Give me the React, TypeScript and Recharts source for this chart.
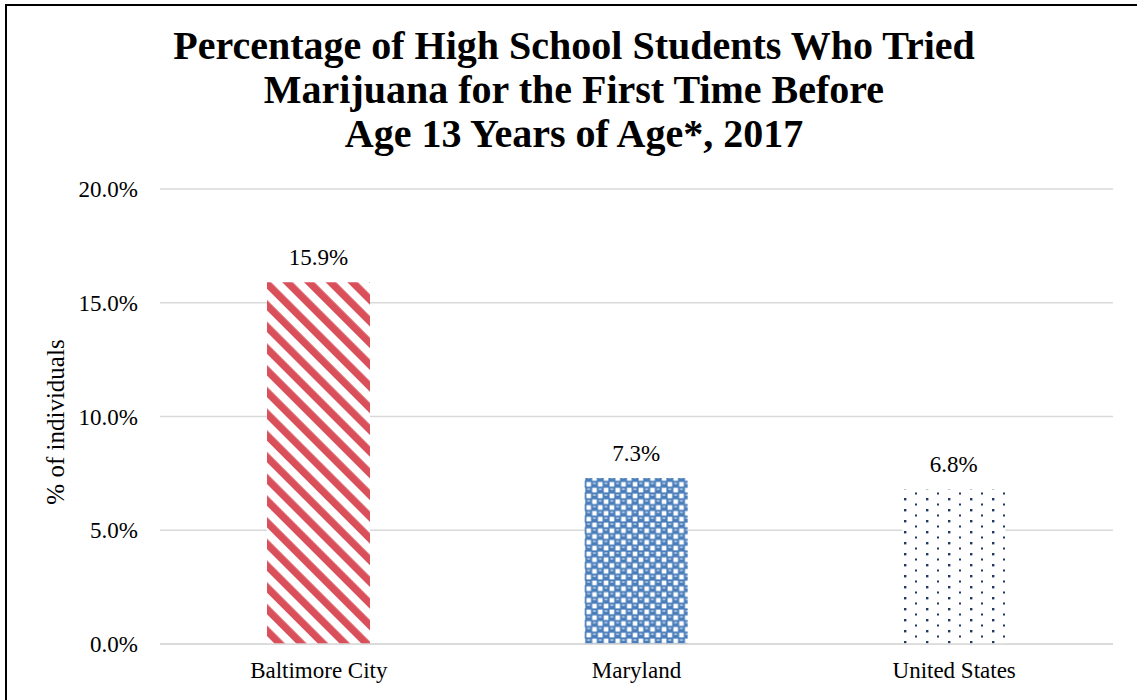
import React from 'react';
import { BarChart, Bar, XAxis, YAxis, CartesianGrid, Cell, LabelList } from 'recharts';

const categories = ['Baltimore City', 'Maryland', 'United States'];
const values = [15.9, 7.3, 6.8];
const yTicks = [0, 5, 10, 15, 20];
const titleLines = [
  'Percentage of High School Students Who Tried',
  'Marijuana for the First Time Before',
  'Age 13 Years of Age*, 2017',
];
const yAxisTitle = '% of individuals';

const fills = ['url(#redStripes)', 'url(#blueChecks)', 'url(#navyDots)'];
const FONT = '"Liberation Serif", "Times New Roman", serif';

const data = categories.map((c, i) => ({ name: c, value: values[i] }));

export default function App() {
  return (
    <div style={{ position: 'absolute', left: 0, top: 0, width: 1137, height: 700, background: '#fff', overflow: 'hidden', fontFamily: FONT }}>
      <div style={{ position: 'absolute', left: 5, top: 4, width: 1140, height: 700, borderTop: '2px solid #000', borderLeft: '2px solid #000' }} />
      <div style={{ position: 'absolute', left: 0, top: 24, width: 1148, textAlign: 'center', fontWeight: 'bold', fontSize: 40, lineHeight: '44px', color: '#000' }}>
        {titleLines.map((t, i) => (<div key={i}>{t}</div>))}
      </div>
      <div style={{ position: 'absolute', left: 0, top: 0 }}>
        <BarChart width={1137} height={700} data={data} margin={{ top: 189, right: 24, bottom: 26, left: 0 }} barSize={103}>
          <defs>
            <pattern id="redStripes" patternUnits="userSpaceOnUse" width={15.35} height={15.35} patternTransform="rotate(-45)">
              <rect x={0} y={0} width={15.35} height={15.35} fill="#ffffff" />
              <rect x={0} y={0} width={7.4} height={15.35} fill="#d9505a" />
            </pattern>
            <pattern id="blueChecks" patternUnits="userSpaceOnUse" width={11.6} height={11.6}>
              <rect x={0} y={0} width={11.6} height={11.6} fill="#4a7ebb" />
              <rect x={0.6} y={0.6} width={4.6} height={4.6} fill="#ffffff" />
              <rect x={6.4} y={6.4} width={4.6} height={4.6} fill="#ffffff" />
              <rect x={7.2} y={1.4} width={2.8} height={1.2} fill="#dfe8f4" />
              <rect x={1.4} y={7.2} width={2.8} height={1.2} fill="#dfe8f4" />
            </pattern>
            <pattern id="navyDots" patternUnits="userSpaceOnUse" width={22} height={11}>
              <rect x={0} y={0} width={22} height={11} fill="#ffffff" />
              <rect x={2} y={3} width={2.4} height={2.4} fill="#1f3864" />
              <rect x={13} y={8.5} width={2} height={2} fill="#1f3864" />
            </pattern>
          </defs>
          <CartesianGrid horizontal vertical={false} stroke="#d9d9d9" strokeWidth={1.5} />
          <XAxis
            dataKey="name"
            axisLine={{ stroke: '#d9d9d9', strokeWidth: 1.5 }}
            tickLine={false}
            tickMargin={12}
            tick={{ fill: '#000', fontSize: 23, fontFamily: FONT }}
          />
          <YAxis
            width={160}
            domain={[0, 20]}
            ticks={yTicks}
            axisLine={false}
            tickLine={false}
            tickMargin={16}
            tickFormatter={(v: number) => v.toFixed(1) + '%'}
            tick={{ fill: '#000', fontSize: 23, fontFamily: FONT }}
          />
          <Bar dataKey="value" isAnimationActive={false}>
            {data.map((d, i) => (<Cell key={d.name} fill={fills[i]} />))}
            <LabelList
              dataKey="value"
              position="top"
              offset={17}
              formatter={(v: number) => v.toFixed(1) + '%'}
              style={{ fill: '#000', fontSize: 23, fontFamily: FONT }}
            />
          </Bar>
        </BarChart>
      </div>
      <svg style={{ position: 'absolute', left: 0, top: 0, pointerEvents: 'none' }} width={1137} height={700}>
        <text x={0} y={0} transform="translate(64 422) rotate(-90)" textAnchor="middle" fontSize={25} fontFamily={FONT} fill="#000">{yAxisTitle}</text>
      </svg>
    </div>
  );
}
